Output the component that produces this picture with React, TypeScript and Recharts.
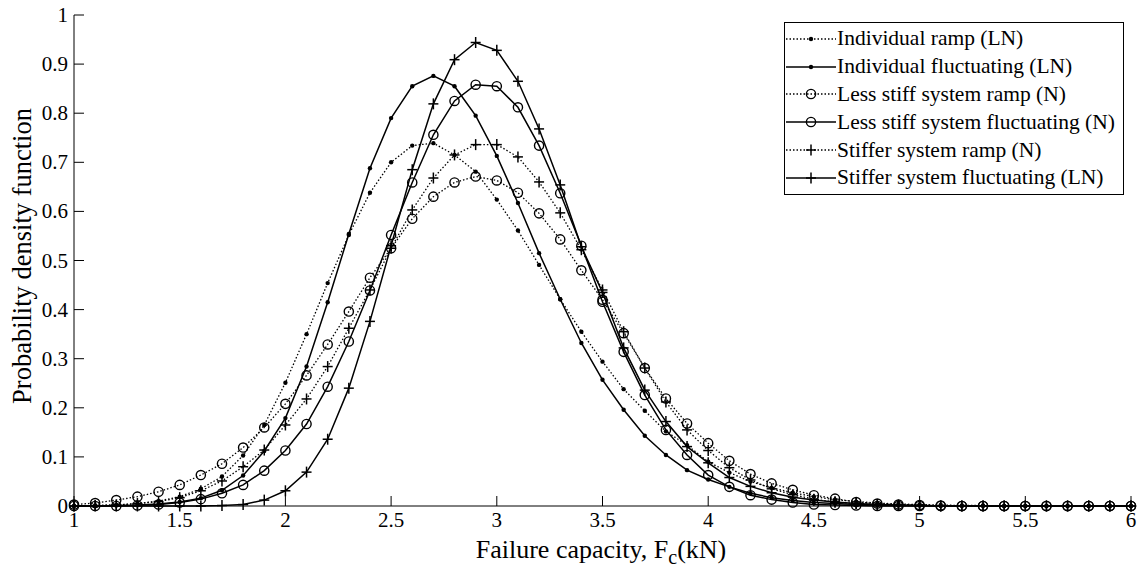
import React from 'react';
import { LineChart, Line, XAxis, YAxis, Legend } from 'recharts';

const FONT = "'Liberation Serif', 'Times New Roman', serif";

// failure capacity Fc (kN), one point every 0.1
const capacity = [
  1.0, 1.1, 1.2, 1.3, 1.4, 1.5, 1.6, 1.7, 1.8, 1.9,
  2.0, 2.1, 2.2, 2.3, 2.4, 2.5, 2.6, 2.7, 2.8, 2.9,
  3.0, 3.1, 3.2, 3.3, 3.4, 3.5, 3.6, 3.7, 3.8, 3.9,
  4.0, 4.1, 4.2, 4.3, 4.4, 4.5, 4.6, 4.7, 4.8, 4.9,
  5.0, 5.1, 5.2, 5.3, 5.4, 5.5, 5.6, 5.7, 5.8, 5.9, 6.0,
];

const indRamp = [
  0, 0.001, 0.002, 0.005, 0.01, 0.019, 0.035, 0.06, 0.103, 0.165,
  0.251, 0.35, 0.454, 0.552, 0.638, 0.7, 0.734, 0.739, 0.715, 0.681,
  0.624, 0.561, 0.491, 0.421, 0.355, 0.294, 0.238, 0.194, 0.152, 0.124,
  0.09, 0.068, 0.05, 0.037, 0.027, 0.019, 0.013, 0.009, 0.006, 0.004,
  0.003, 0.002, 0.001, 0.001, 0, 0, 0, 0, 0, 0, 0,
];

const indFluct = [
  0, 0, 0.001, 0.002, 0.004, 0.008, 0.016, 0.032, 0.062, 0.112,
  0.179, 0.284, 0.415, 0.554, 0.688, 0.79, 0.855, 0.876, 0.855, 0.795,
  0.713, 0.617, 0.515, 0.421, 0.332, 0.257, 0.196, 0.143, 0.104, 0.073,
  0.054, 0.039, 0.026, 0.017, 0.011, 0.007, 0.005, 0.003, 0.002, 0.001,
  0.001, 0, 0, 0, 0, 0, 0, 0, 0, 0, 0,
];

const lessRamp = [
  0.003, 0.006, 0.012, 0.019, 0.029, 0.043, 0.063, 0.086, 0.119, 0.16,
  0.208, 0.266, 0.329, 0.396, 0.465, 0.525, 0.585, 0.63, 0.659, 0.671,
  0.663, 0.638, 0.596, 0.543, 0.48, 0.42, 0.352, 0.281, 0.219, 0.168,
  0.128, 0.092, 0.065, 0.046, 0.033, 0.022, 0.015, 0.008, 0.005, 0.003,
  0.002, 0.001, 0, 0, 0, 0, 0, 0, 0, 0, 0,
];

const lessFluct = [
  0, 0, 0, 0.001, 0.003, 0.007, 0.014, 0.026, 0.043, 0.072,
  0.113, 0.167, 0.243, 0.335, 0.439, 0.552, 0.659, 0.756, 0.825, 0.858,
  0.855, 0.812, 0.734, 0.637, 0.53, 0.416, 0.314, 0.226, 0.155, 0.104,
  0.063, 0.039, 0.022, 0.013, 0.007, 0.003, 0.002, 0.001, 0, 0,
  0, 0, 0, 0, 0, 0, 0, 0, 0, 0, 0,
];

const stiffRamp = [
  0, 0.001, 0.002, 0.005, 0.009, 0.017, 0.031, 0.051, 0.08, 0.114,
  0.165, 0.218, 0.284, 0.362, 0.44, 0.525, 0.603, 0.668, 0.715, 0.736,
  0.736, 0.711, 0.66, 0.597, 0.522, 0.44, 0.355, 0.281, 0.212, 0.155,
  0.113, 0.078, 0.053, 0.035, 0.023, 0.014, 0.008, 0.005, 0.003, 0.001,
  0.001, 0, 0, 0, 0, 0, 0, 0, 0, 0, 0,
];

const stiffFluct = [
  0, 0, 0, 0, 0, 0, 0, 0.001, 0.003, 0.012,
  0.031, 0.069, 0.136, 0.24, 0.376, 0.53, 0.685, 0.819, 0.909, 0.944,
  0.928, 0.865, 0.768, 0.654, 0.528, 0.435, 0.322, 0.236, 0.172, 0.121,
  0.088, 0.058, 0.04, 0.027, 0.018, 0.012, 0.008, 0.005, 0.003, 0.002,
  0.001, 0, 0, 0, 0, 0, 0, 0, 0, 0, 0,
];

const xTicks = [1, 1.5, 2, 2.5, 3, 3.5, 4, 4.5, 5, 5.5, 6];
const yTicks = [0, 0.1, 0.2, 0.3, 0.4, 0.5, 0.6, 0.7, 0.8, 0.9, 1];

const data = capacity.map((x, i) => ({
  x,
  indRamp: indRamp[i],
  indFluct: indFluct[i],
  lessRamp: lessRamp[i],
  lessFluct: lessFluct[i],
  stiffRamp: stiffRamp[i],
  stiffFluct: stiffFluct[i],
}));

type MarkerKind = 'dot' | 'circle' | 'plus';

const series: { key: string; name: string; dashed: boolean; marker: MarkerKind }[] = [
  { key: 'indRamp', name: 'Individual ramp (LN)', dashed: true, marker: 'dot' },
  { key: 'indFluct', name: 'Individual fluctuating (LN)', dashed: false, marker: 'dot' },
  { key: 'lessRamp', name: 'Less stiff system ramp (N)', dashed: true, marker: 'circle' },
  { key: 'lessFluct', name: 'Less stiff system fluctuating (N)', dashed: false, marker: 'circle' },
  { key: 'stiffRamp', name: 'Stiffer system ramp (N)', dashed: true, marker: 'plus' },
  { key: 'stiffFluct', name: 'Stiffer system fluctuating (LN)', dashed: false, marker: 'plus' },
];

const Marker = ({ kind, cx, cy }: { kind: MarkerKind; cx: number; cy: number }) => {
  if (kind === 'dot') return <circle cx={cx} cy={cy} r={2.2} fill="#000" />;
  if (kind === 'circle')
    return <circle cx={cx} cy={cy} r={4.6} fill="none" stroke="#000" strokeWidth={1.4} />;
  return (
    <g stroke="#000" strokeWidth={1.5}>
      <line x1={cx - 5} y1={cy} x2={cx + 5} y2={cy} />
      <line x1={cx} y1={cy - 5.5} x2={cx} y2={cy + 5.5} />
    </g>
  );
};

const makeDot = (kind: MarkerKind) => (p: any) => {
  const { cx, cy, index } = p;
  if (cx == null || cy == null) return <g key={`m${index}`} />;
  return (
    <g key={`m${index}`}>
      <Marker kind={kind} cx={cx} cy={cy} />
    </g>
  );
};

// inward ticks on all four sides, like the matlab box
const BottomTick = (p: any) => {
  const { x, y, payload } = p;
  return (
    <g>
      <line x1={x} y1={y} x2={x} y2={y - 10} stroke="#000" />
      <text x={x} y={y + 21} textAnchor="middle" fontSize={21} fontFamily={FONT} fill="#000">
        {payload.value}
      </text>
    </g>
  );
};

const TopTick = (p: any) => {
  const { x, y } = p;
  return <line x1={x} y1={y} x2={x} y2={y + 10} stroke="#000" />;
};

const LeftTick = (p: any) => {
  const { x, y, payload } = p;
  return (
    <g>
      <line x1={x} y1={y} x2={x + 10} y2={y} stroke="#000" />
      <text x={x - 6} y={y + 7} textAnchor="end" fontSize={21} fontFamily={FONT} fill="#000">
        {payload.value}
      </text>
    </g>
  );
};

const RightTick = (p: any) => {
  const { x, y } = p;
  return <line x1={x} y1={y} x2={x - 10} y2={y} stroke="#000" />;
};

const LegendBox = () => (
  <div
    style={{
      border: '1px solid #000',
      background: '#fff',
      padding: '2px 8px 2px 0',
      fontFamily: FONT,
      fontSize: 21.5,
      color: '#000',
      width: 'max-content',
    }}
  >
    {series.map((s) => (
      <div key={s.key} style={{ display: 'flex', alignItems: 'center', height: 27.8 }}>
        <svg width={52} height={20} style={{ flex: 'none' }}>
          <line
            x1={1}
            y1={10}
            x2={51}
            y2={10}
            stroke="#000"
            strokeWidth={s.dashed ? 1.3 : 1.6}
            strokeDasharray={s.dashed ? '1.5 2' : undefined}
          />
          <Marker kind={s.marker} cx={26} cy={10} />
        </svg>
        <span style={{ whiteSpace: 'nowrap' }}>{s.name}</span>
      </div>
    ))}
  </div>
);

export default function App() {
  return (
    <div style={{ position: 'absolute', left: 0, top: 0, background: '#fff' }}>
      <LineChart width={1141} height={567} data={data} margin={{ top: 15, right: 10, left: 0, bottom: 0 }}>
        <XAxis
          dataKey="x"
          type="number"
          domain={[1, 6]}
          ticks={xTicks}
          height={61}
          tickSize={0}
          tickMargin={0}
          tickLine={false}
          axisLine={{ stroke: '#000' }}
          tick={BottomTick}
          interval={0}
        />
        <XAxis
          xAxisId="top"
          dataKey="x"
          type="number"
          orientation="top"
          domain={[1, 6]}
          ticks={xTicks}
          height={0}
          tickSize={0}
          tickMargin={0}
          tickLine={false}
          axisLine={{ stroke: '#000' }}
          tick={TopTick}
          interval={0}
        />
        <YAxis
          type="number"
          domain={[0, 1]}
          ticks={yTicks}
          width={74}
          tickSize={0}
          tickMargin={0}
          tickLine={false}
          axisLine={{ stroke: '#000' }}
          tick={LeftTick}
          interval={0}
        />
        <YAxis
          yAxisId="right"
          type="number"
          orientation="right"
          domain={[0, 1]}
          ticks={yTicks}
          width={0}
          tickSize={0}
          tickMargin={0}
          tickLine={false}
          axisLine={{ stroke: '#000' }}
          tick={RightTick}
          interval={0}
        />
        {series.map((s) => (
          <Line
            key={s.key}
            dataKey={s.key}
            name={s.name}
            type="linear"
            stroke="#000"
            strokeWidth={s.dashed ? 1.3 : 1.5}
            strokeDasharray={s.dashed ? '1.5 2' : undefined}
            dot={makeDot(s.marker)}
            activeDot={false}
            isAnimationActive={false}
          />
        ))}
        <Legend
          layout="vertical"
          align="center"
          verticalAlign="middle"
          content={LegendBox}
          wrapperStyle={{ left: 784, top: 22, width: 'auto', height: 'auto' }}
        />
        <text x={601} y={558} textAnchor="middle" fontSize={26} fontFamily={FONT} fill="#000">
          Failure capacity, F
          <tspan fontSize={20} dy={6}>c</tspan>
          <tspan dy={-6}>(kN)</tspan>
        </text>
        <text
          x={0}
          y={0}
          transform="translate(31 256) rotate(-90)"
          textAnchor="middle"
          fontSize={26.5}
          fontFamily={FONT}
          fill="#000"
        >
          Probability density function
        </text>
      </LineChart>
    </div>
  );
}
